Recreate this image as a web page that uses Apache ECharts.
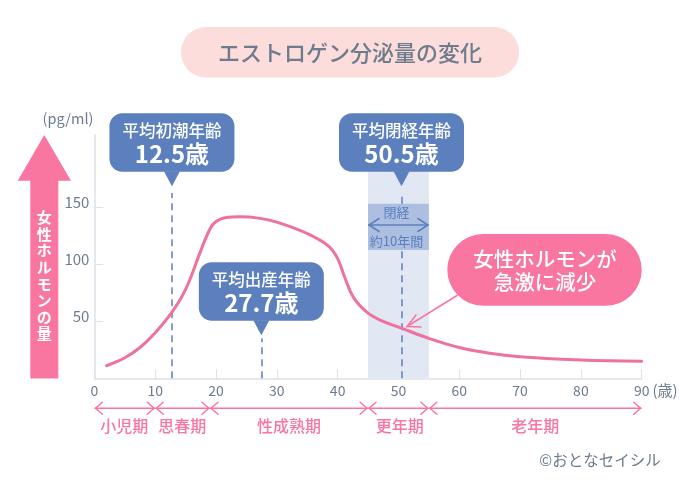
<!DOCTYPE html>
<html><head><meta charset="utf-8">
<style>html,body{margin:0;padding:0;background:#fff}#c{width:700px;height:500px}</style>
<script src="https://cdn.jsdelivr.net/npm/echarts@6/dist/echarts.min.js"></script>
</head><body><div id="c"></div>
<script>
const ages = [2,5,7.5,10,12.75,15,17.5,19,20,21.5,24,27,30,35,38.5,40,41.2,42.6,44.8,47,50.5,55,60,65,70,80,90];
const hormone = [11,18,27,40,58,78,112,131,137.5,140.8,141.6,140.5,137,127,116,105,88,71,58,51,44,35,27,22,19,16,15];
const yTicks = [50,100,150];
const calloutTitles = ['平均初潮年齢','平均出産年齢','平均閉経年齢'];
const calloutAges = ['12.5歳','27.7歳','50.5歳'];
const calloutX = [12.75,27.45,50.5];
const dashRanges = [[[0,162.5]],[[0,35]],[[0,112.5],[153,162.5]]];
const bandRange = [45,55];
const bandTop = 182;
const innerBand = [112.5,153];
const periodBreaks = [0,10,19,45,55,90];
const periodNames = ['小児期','思春期','性成熟期','更年期','老年期'];
const periodCenters = [4.9,14.45,32,50.2,72.5];

const FONT = '"Noto Sans CJK JP","Noto Sans",sans-serif';
const GREY = '#6c7c8c', BLUE = '#5b80bd', PINK = '#f8769f', LINEPINK = '#ee729b', AXIS = '#dde2ea';
const chart = echarts.init(document.getElementById('c'), null, {renderer:'canvas'});

const dashData = [];
calloutX.forEach((x,i)=>dashRanges[i].forEach(r=>dashData.push([{coord:[x,r[0]]},{coord:[x,r[1]]}])));

chart.setOption({
  animation:false,
  backgroundColor:'#fff',
  textStyle:{fontFamily:FONT},
  grid:{left:94.4,right:58.3,top:135,bottom:121.7},
  xAxis:{type:'value',min:0,max:90,interval:10,
    axisLine:{show:true,onZero:false,lineStyle:{color:AXIS,width:1.5}},
    axisTick:{show:true,inside:true,length:9,lineStyle:{color:AXIS,width:1}},
    axisLabel:{color:GREY,fontSize:14,margin:5,fontFamily:FONT,hideOverlap:false},
    splitLine:{show:false}},
  yAxis:{type:'value',min:0,max:213.4,
    axisLine:{show:true,onZero:false,lineStyle:{color:AXIS,width:1.5}},
    axisTick:{show:true,inside:true,length:9,customValues:yTicks,lineStyle:{color:AXIS,width:1}},
    axisLabel:{color:GREY,fontSize:15,margin:5,verticalAlign:'bottom',lineHeight:9,fontFamily:FONT,customValues:yTicks},
    splitLine:{show:false}},
  series:[
    {type:'line',data:[],silent:true,z:1,
      markArea:{silent:true,z:1,data:[
        [{coord:[bandRange[0],0],itemStyle:{color:'#e1e7f3'}},{coord:[bandRange[1],bandTop]}],
        [{coord:[bandRange[0],innerBand[0]],itemStyle:{color:'#acbfe0'}},{coord:[bandRange[1],innerBand[1]]}]
      ]},
      markLine:{silent:true,z:2,symbol:'none',label:{show:false},
        lineStyle:{color:BLUE,width:1.5,type:[7,5]},data:dashData}
    },
    {type:'line',name:'エストロゲン',data:ages.map((a,i)=>[a,hormone[i]]),
      smooth:0.4,showSymbol:false,z:3,
      lineStyle:{color:LINEPINK,width:3,cap:'round'}}
  ]
});

const xp = v => chart.convertToPixel({xAxisIndex:0},v);
const txt = (x,y,t,size,color,weight,extra) => ({type:'text',z:20,x,y,silent:true,
  style:Object.assign({text:t,fontSize:size,fill:color,fontWeight:weight||400,fontFamily:FONT,align:'center',verticalAlign:'middle'},extra||{})});
const line = (x1,y1,x2,y2,color,w) => ({type:'line',z:20,silent:true,shape:{x1,y1,x2,y2},style:{stroke:color,lineWidth:w,lineCap:'round'}});
const g = [];

// title
g.push({type:'rect',z:10,shape:{x:181,y:27,width:338,height:50.5,r:25},style:{fill:'#fddcdc'}});
g.push(txt(350,52.5,'エストロゲン分泌量の変化',22,GREY,500));

// big arrow
g.push({type:'polygon',z:10,shape:{points:[[44.3,135],[71,180.7],[58.3,180.7],[58.3,378.5],[30.3,378.5],[30.3,180.7],[17.7,180.7]]},style:{fill:PINK}});
Array.from('女性ホルモンの量').forEach((c,i)=>g.push(txt(44.3,217.5+i*16.6,c,15,'#fff',700)));

// units
g.push(txt(68,118,'(pg/ml)',14.5,GREY));
g.push(txt(665,390,'(歳)',15,GREY));

// blue callouts
const boxTop=[113.3,262.3,113.3];
calloutX.forEach((a,i)=>{
  const cx=xp(a), t=boxTop[i];
  g.push({type:'rect',z:10,shape:{x:cx-62.5,y:t,width:125,height:58.4,r:13},style:{fill:BLUE}});
  g.push({type:'polygon',z:10,shape:{points:[[cx-8,t+58],[cx+8,t+58],[cx,t+73]]},style:{fill:BLUE}});
  g.push(txt(cx,t+17.5,calloutTitles[i],16.5,'#fff',500));
  g.push(txt(cx,t+41,calloutAges[i],24,'#fff',700));
});

// inner band annotation
const bl=xp(bandRange[0]), br=xp(bandRange[1]), bc=(bl+br)/2-2;
g.push(txt(bc,212,'閉経',13,BLUE,400));
g.push(txt(bc,241,'約10年間',13,BLUE,400));
g.push(line(bl+1,225,br-1,225,BLUE,1.5));
g.push(line(bl+1,225,bl+11,218.5,BLUE,1.5));
g.push(line(bl+1,225,bl+11,231.5,BLUE,1.5));
g.push(line(br-1,225,br-11,218.5,BLUE,1.5));
g.push(line(br-1,225,br-11,231.5,BLUE,1.5));

// pink callout
g.push(line(457,295.5,407,326.5,PINK,1.5));
g.push(line(407,326.5,416,315,PINK,1.5));
g.push(line(407,326.5,421,327,PINK,1.5));
g.push({type:'rect',z:15,shape:{x:447.3,y:234,width:194.4,height:71.7,r:35.8},style:{fill:PINK}});
g.push(txt(545,259.5,'女性ホルモンが',20.5,'#fff',500));
g.push(txt(545,282.5,'急激に減少',20.5,'#fff',500));

// life periods
const py=408.3;
periodBreaks.slice(0,-1).forEach((b,i)=>{
  const a=xp(b)+1, e=xp(periodBreaks[i+1])-1;
  g.push(line(a,py,e,py,PINK,1.5));
  g.push(line(a,py,a+7,py-6,PINK,1.5));
  g.push(line(a,py,a+7,py+6,PINK,1.5));
  g.push(line(e,py,e-7,py-6,PINK,1.5));
  g.push(line(e,py,e-7,py+6,PINK,1.5));
  g.push(txt(xp(periodCenters[i]),426,periodNames[i],16,PINK,500));
});

// credit
g.push(txt(600,460,'©おとなセイシル',15.5,GREY));

chart.setOption({graphic:{elements:g}});
</script></body></html>
